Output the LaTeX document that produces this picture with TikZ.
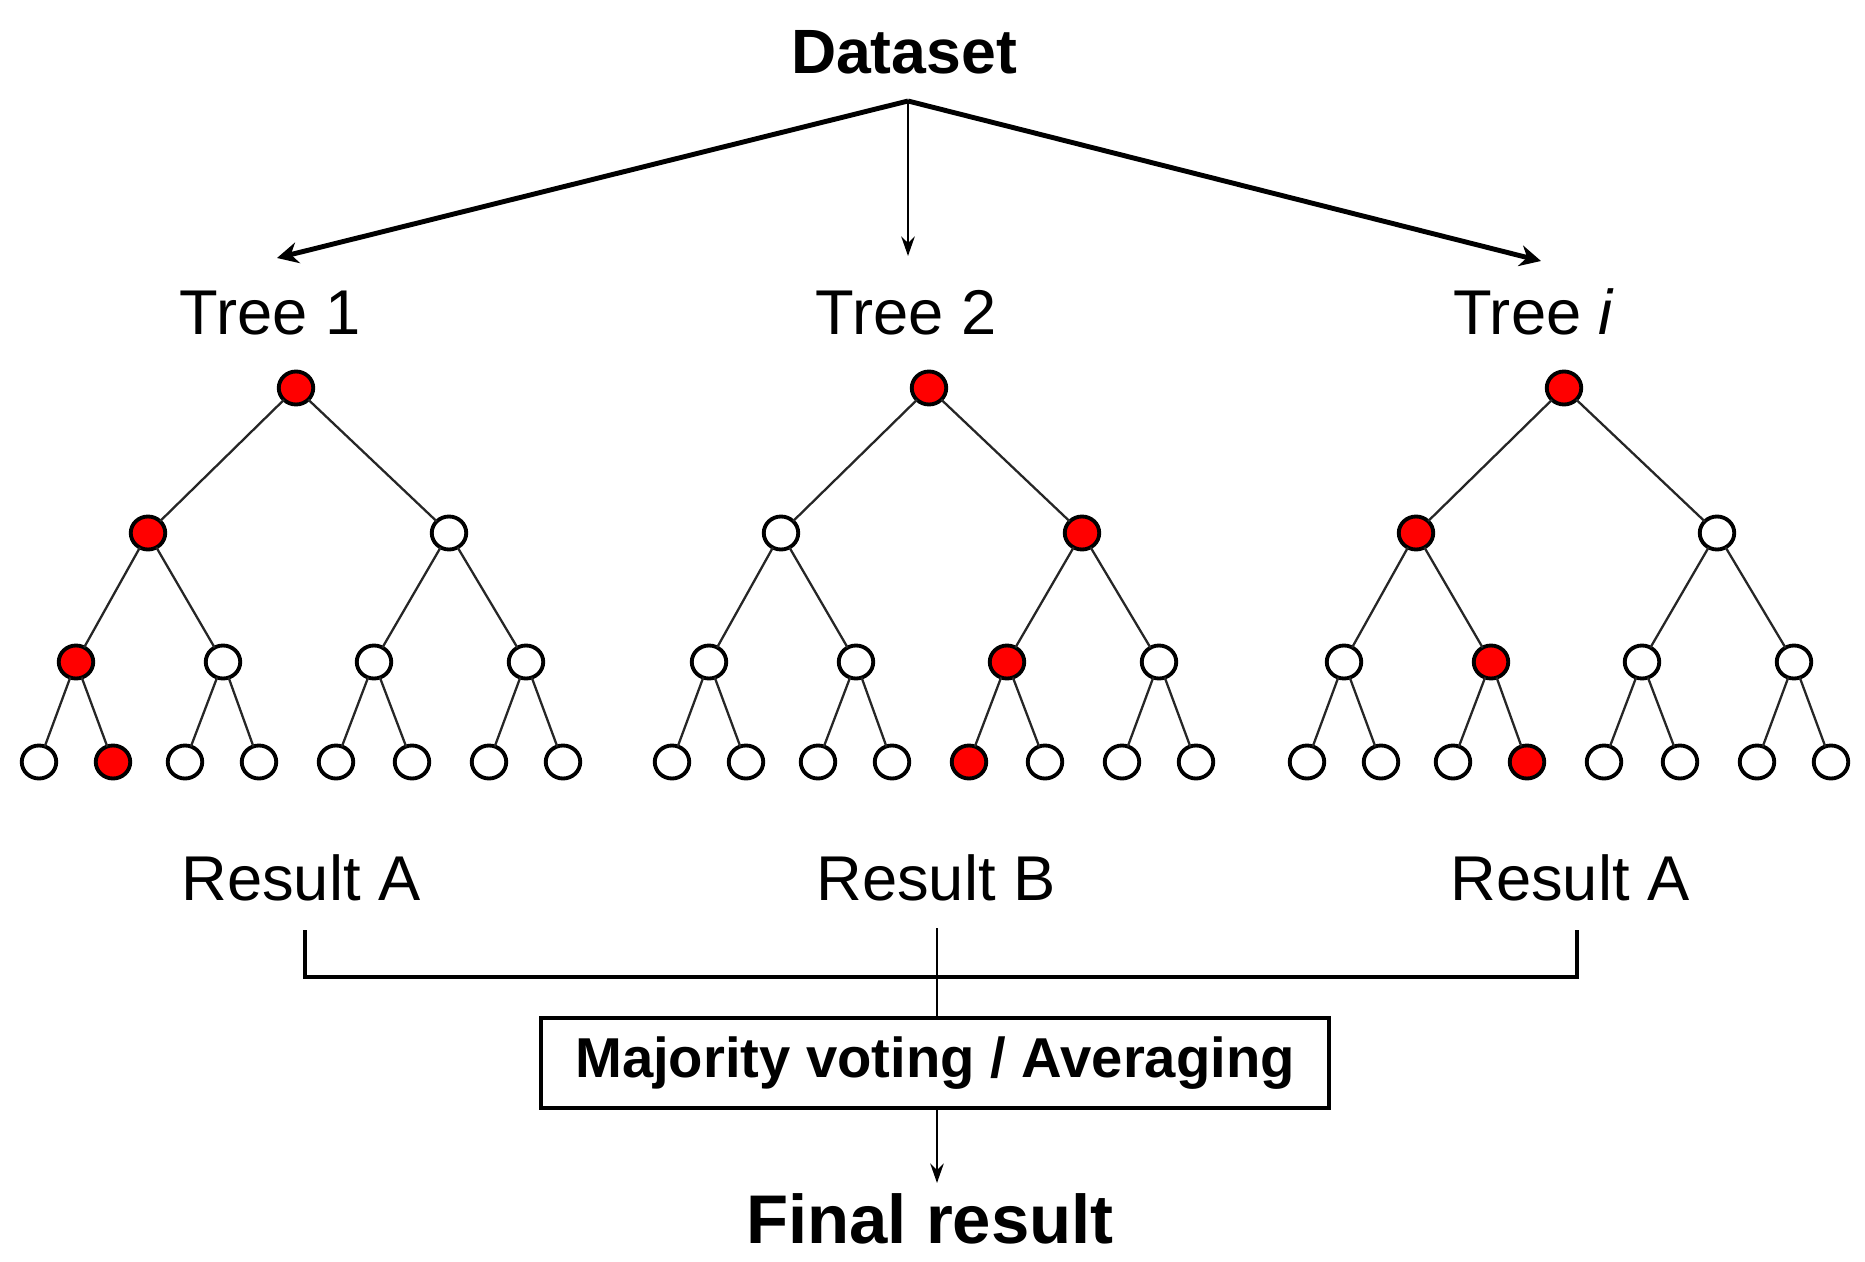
\documentclass[tikz,border=0pt]{standalone}
\usepackage{fontspec}
\setmainfont{Liberation Sans}
\usetikzlibrary{arrows.meta,shapes.geometric}
\tikzset{
  tnode/.style={ellipse, draw=black, line width=1.1pt, minimum width=0.345cm, minimum height=0.33cm, inner sep=0pt, outer sep=0pt},
  edge/.style={draw=black!85, line width=0.65pt},
  lbl/.style={anchor=base, inner sep=0pt, font=\fontsize{18}{20}\selectfont},
  thickarrow/.style={line width=1.4pt, -{Stealth[length=6pt,width=6pt]}},
  thinarrow/.style={line width=0.8pt, -{Stealth[length=5.5pt,width=3.8pt]}},
  bracket/.style={line width=1.15pt},
  votebox/.style={draw, line width=1.15pt, minimum width=7.88cm, minimum height=0.90cm, inner sep=0pt, font=\bfseries\fontsize{16}{18}\selectfont}
}
\newcommand\rfdrawtree[5]{%
  \node[tnode, fill=red] (#1-r) at (#2,-3.88) {};
  \foreach \i/\dx in {1/-1.48, 2/1.53} {
    \ifnum\i=#3 \def\fc{red}\else\def\fc{white}\fi
    \node[tnode, fill=\fc] (#1-a\i) at ({#2+\dx},-5.33) {};
    \draw[edge] (#1-r) -- (#1-a\i);
  }
  \foreach \i/\dx in {1/-2.20, 2/-0.73, 3/0.78, 4/2.30} {
    \ifnum\i=#4 \def\fc{red}\else\def\fc{white}\fi
    \pgfmathtruncatemacro\p{(\i+1)/2}
    \node[tnode, fill=\fc] (#1-b\i) at ({#2+\dx},-6.62) {};
    \draw[edge] (#1-a\p) -- (#1-b\i);
  }
  \foreach \i/\dx in {1/-2.57, 2/-1.83, 3/-1.11, 4/-0.37, 5/0.40, 6/1.16, 7/1.93, 8/2.67} {
    \ifnum\i=#5 \def\fc{red}\else\def\fc{white}\fi
    \pgfmathtruncatemacro\p{(\i+1)/2}
    \node[tnode, fill=\fc] (#1-c\i) at ({#2+\dx},-7.62) {};
    \draw[edge] (#1-b\p) -- (#1-c\i);
  }
}
\begin{document}
\begin{tikzpicture}
\useasboundingbox (0,0) rectangle (18.65,-12.62);
% title
\node[lbl, font=\bfseries\fontsize{17.8}{20}\selectfont] (ds) at (9.04,-0.74) {Dataset};
\coordinate (apex) at (9.08,-1.01);
\coordinate (e1) at (2.77,-2.58);
\coordinate (e2) at (9.08,-2.56);
\coordinate (e3) at (15.41,-2.61);
\draw[thickarrow] (apex) -- (e1);
\draw[thickarrow] (apex) -- (e3);
\draw[thinarrow] (apex) -- (e2);
% tree labels
\node[lbl] (tl1) at (2.70,-3.35) {Tree 1};
\node[lbl] (tl2) at (9.06,-3.35) {Tree 2};
\node[lbl] (tl3) at (15.34,-3.35) {Tree \textit{i}};
% trees
\rfdrawtree{ta}{2.96}{1}{1}{2}
\rfdrawtree{tb}{9.29}{2}{3}{5}
\rfdrawtree{tc}{15.64}{1}{2}{4}
% results
\node[lbl] (res1) at (3.01,-9.00) {Result A};
\node[lbl] (res2) at (9.36,-9.00) {Result B};
\node[lbl] (res3) at (15.70,-9.00) {Result A};
% bracket
\coordinate (b1) at (3.05,-9.30);
\coordinate (b2) at (3.05,-9.77);
\coordinate (b3) at (15.77,-9.77);
\coordinate (b4) at (15.77,-9.30);
\draw[bracket] (b1) -- (b2) -- (b3) -- (b4);
% vote box
\node[votebox] (vote) at (9.35,-10.63) {Majority voting / Averaging};
\coordinate (mid) at (9.37,-9.28);
\draw[line width=0.8pt] (mid) -- (mid |- vote.north);
% final
\node[lbl, font=\bfseries\fontsize{19.6}{22}\selectfont] (final) at (9.30,-12.43) {Final result};
\coordinate (fa) at (9.37,-11.83);
\draw[thinarrow] (mid |- vote.south) -- (fa);
\end{tikzpicture}
\end{document}
